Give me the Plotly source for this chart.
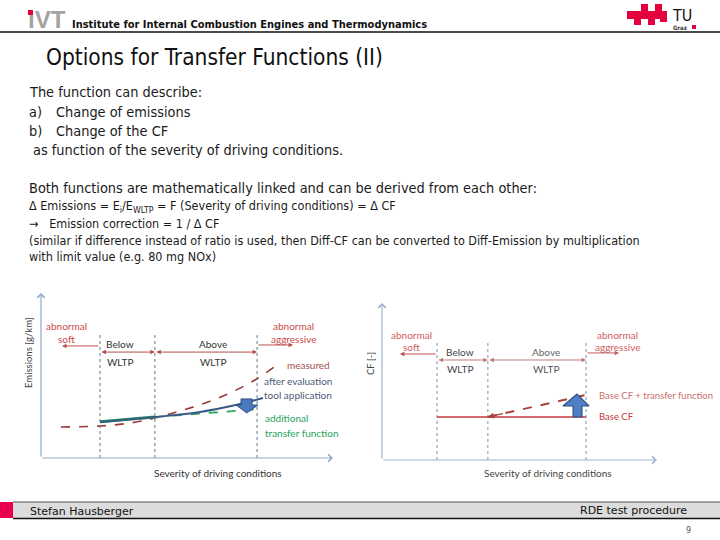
import plotly.graph_objects as go

W, H = 720, 540

# ---------------- data (diagram units 0..10 on both axes) ----------------
# Left diagram: emissions vs severity
left_bounds = [2.02, 3.90, 7.40]          # soft | below WLTP | above WLTP | aggressive
left_vtop = 7.45
measured_x = [0.68, 2.02, 3.05, 3.90, 4.76, 5.62, 6.47, 7.33, 8.08]
measured_y = [1.88, 1.94, 2.12, 2.42, 2.85, 3.33, 3.94, 4.73, 5.64]
after_eval_x = [2.02, 3.90, 5.45, 6.82, 7.60]
after_eval_y = [2.18, 2.48, 2.79, 3.27, 3.64]
green_solid_x = [2.02, 3.90]
green_solid_y = [2.20, 2.48]
green_dash_x = [3.90, 7.50]
green_dash_y = [2.48, 2.97]
down_arrow_x = [6.85, 7.23, 7.23, 7.43, 7.05, 6.68, 6.85, 6.85]
down_arrow_y = [3.58, 3.58, 3.21, 3.21, 2.73, 3.21, 3.21, 3.58]

# Right diagram: CF vs severity
right_bounds = [2.00, 3.85, 7.42]
right_vtop = 7.45
base_cf_x = [2.00, 7.42]
base_cf_y = [2.74, 2.74]
tf_x = [3.85, 7.42]
tf_y = [2.74, 4.14]
up_arrow_x = [6.95, 7.27, 7.27, 7.53, 7.09, 6.58, 6.95, 6.95]
up_arrow_y = [2.74, 2.74, 3.44, 3.44, 4.20, 3.44, 3.44, 2.74]

# ---------------- fonts / colours ----------------
NARROW = "Liberation Sans Narrow, DejaVu Sans Condensed, Arial Narrow, sans-serif"
DIAG = "Lato, Liberation Sans, sans-serif"
VERD = "DejaVu Sans, Verdana, sans-serif"
RED = "#C94B48"
AXC = "#8FA9C9"
VLC = "#5E7795"


def P(x, y):
    return x / W, 1 - y / H


fig = go.Figure()

# ---- left diagram traces ----
for b in left_bounds:
    fig.add_trace(go.Scatter(x=[b, b], y=[0, left_vtop], mode="lines",
                             line=dict(color=VLC, width=1, dash="dot"),
                             xaxis="x", yaxis="y", hoverinfo="skip"))
fig.add_trace(go.Scatter(x=measured_x, y=measured_y, mode="lines",
                         line=dict(color="#9A3B38", width=1.6, dash="dash", shape="spline"),
                         xaxis="x", yaxis="y"))
fig.add_trace(go.Scatter(x=green_solid_x, y=green_solid_y, mode="lines",
                         line=dict(color="#1E9E5A", width=3),
                         xaxis="x", yaxis="y"))
fig.add_trace(go.Scatter(x=green_dash_x, y=green_dash_y, mode="lines",
                         line=dict(color="#2EA862", width=1.8, dash="dash"),
                         xaxis="x", yaxis="y"))
fig.add_trace(go.Scatter(x=after_eval_x, y=after_eval_y, mode="lines",
                         line=dict(color="#3A5A86", width=2, shape="spline"),
                         xaxis="x", yaxis="y"))
fig.add_trace(go.Scatter(x=down_arrow_x, y=down_arrow_y, mode="lines", fill="toself",
                         fillcolor="#4A78C0", line=dict(color="#2F4F80", width=1),
                         xaxis="x", yaxis="y"))

# ---- right diagram traces ----
for b in right_bounds:
    fig.add_trace(go.Scatter(x=[b, b], y=[0, right_vtop], mode="lines",
                             line=dict(color="#7E93AD", width=1, dash="dot"),
                             xaxis="x2", yaxis="y2"))
fig.add_trace(go.Scatter(x=base_cf_x, y=base_cf_y, mode="lines",
                         line=dict(color="#C8373A", width=1.6),
                         xaxis="x2", yaxis="y2"))
fig.add_trace(go.Scatter(x=tf_x, y=tf_y, mode="lines",
                         line=dict(color="#A8403F", width=2, dash="dash"),
                         xaxis="x2", yaxis="y2"))
fig.add_trace(go.Scatter(x=up_arrow_x, y=up_arrow_y, mode="lines", fill="toself",
                         fillcolor="#4F7FC4", line=dict(color="#2F4F80", width=1.2),
                         xaxis="x2", yaxis="y2"))

ann = []


def arrow(xh, yh, xt, yt, xa, ya, color, width=1, head=4, side="end", size=1):
    ann.append(dict(x=xh, y=yh, ax=xt, ay=yt, xref=xa, yref=ya, axref=xa, ayref=ya,
                    text="", showarrow=True, arrowhead=head, arrowsize=size,
                    arrowwidth=width, arrowcolor=color, arrowside=side,
                    startarrowhead=head, startarrowsize=size))


def txt(x, y, s, xa="paper", ya="paper", size=10, color="#222", font=DIAG,
        xanchor="left", yanchor="middle", angle=0):
    ann.append(dict(x=x, y=y, xref=xa, yref=ya, text=s, showarrow=False,
                    font=dict(size=size, color=color, family=font),
                    xanchor=xanchor, yanchor=yanchor, textangle=angle))


# axes arrows
arrow(0, 10, 0, 0, "x", "y", AXC, 1.2, 4, size=1.2)
arrow(10, 0, 0, 0, "x", "y", AXC, 1.2, 4, size=1.2)
arrow(0, 10, 0, 0, "x2", "y2", "#9DB3CE", 1.2, 4, size=1.2)
arrow(10, 0, 0, 0, "x2", "y2", "#9DB3CE", 1.2, 4, size=1.2)

# left region arrows
arrow(0.72, 6.79, left_bounds[0], 6.79, "x", "y", "#B9514D", 1, 2, size=0.9)
arrow(left_bounds[1], 6.42, left_bounds[0], 6.42, "x", "y", "#B0504C", 1, 2, "end+start", 0.9)
arrow(left_bounds[2], 6.42, left_bounds[1], 6.42, "x", "y", "#B0504C", 1, 2, "end+start", 0.9)
arrow(8.63, 6.85, left_bounds[2], 6.85, "x", "y", "#B9514D", 1, 2, size=0.9)

# right region arrows
arrow(0.65, 6.75, right_bounds[0], 6.75, "x2", "y2", "#B9514D", 1, 2, size=0.9)
arrow(right_bounds[1], 6.37, right_bounds[0], 6.37, "x2", "y2", "#C07A78", 1, 2, "end+start", 0.9)
arrow(right_bounds[2], 6.37, right_bounds[1], 6.37, "x2", "y2", "#C07A78", 1, 2, "end+start", 0.9)
arrow(8.62, 6.82, right_bounds[2], 6.82, "x2", "y2", "#C06060", 1, 2, size=0.9)
# arrowhead at left end of dashed transfer line
arrow(tf_x[0], tf_y[0], tf_x[0] + 0.6, tf_y[0] + 0.235, "x2", "y2", "#A8403F", 1.5, 2, size=0.8)

# left diagram text
DS = 10
txt(0.89, 8.0, "abnormal", "x", "y", DS, RED, xanchor="center")
txt(0.89, 7.2, "soft", "x", "y", DS, RED, xanchor="center")
txt(2.7, 6.9, "Below", "x", "y", DS, "#333", xanchor="center")
txt(2.7, 5.8, "WLTP", "x", "y", DS, "#333", xanchor="center")
txt(5.89, 6.9, "Above", "x", "y", DS, "#333", xanchor="center")
txt(5.89, 5.8, "WLTP", "x", "y", DS, "#333", xanchor="center")
txt(8.63, 8.0, "abnormal", "x", "y", DS, RED, xanchor="center")
txt(8.63, 7.2, "aggressive", "x", "y", DS, RED, xanchor="center")
txt(8.36, 5.64, "measured", "x", "y", DS, "#A5514C")
txt(7.57, 4.67, "after evaluation", "x", "y", DS, "#4A5C78")
txt(7.57, 3.82, "tool application", "x", "y", DS, "#4A5C78")
txt(7.6, 2.42, "additional", "x", "y", DS, "#1FA35C")
txt(7.6, 1.52, "transfer function", "x", "y", DS, "#1FA35C")
txt(*P(28, 353), "Emissions [g/km]", size=9.5, color="#444", xanchor="center", angle=-90)
txt(*P(218, 473), "Severity of driving conditions", size=10, color="#333", xanchor="center")

# right diagram text
txt(1.09, 7.96, "abnormal", "x2", "y2", DS, "#D06060", xanchor="center")
txt(1.09, 7.2, "soft", "x2", "y2", DS, "#D06060", xanchor="center")
txt(2.84, 6.85, "Below", "x2", "y2", DS, "#444", xanchor="center")
txt(2.84, 5.78, "WLTP", "x2", "y2", DS, "#444", xanchor="center")
txt(5.96, 6.85, "Above", "x2", "y2", DS, "#666", xanchor="center")
txt(5.96, 5.78, "WLTP", "x2", "y2", DS, "#555", xanchor="center")
txt(8.58, 7.96, "abnormal", "x2", "y2", DS, "#D06060", xanchor="center")
txt(8.58, 7.2, "aggressive", "x2", "y2", DS, "#D06060", xanchor="center")
txt(7.82, 4.14, "Base CF + transfer function", "x2", "y2", 9.5, "#C87070")
txt(7.82, 2.74, "Base CF", "x2", "y2", 9.5, "#C8373A")
txt(*P(370, 363), "CF [-]", size=9.5, color="#444", xanchor="center", angle=-90)
txt(*P(548, 473), "Severity of driving conditions", size=10, color="#444", xanchor="center")

# header / title / body text
txt(*P(26, 19), "<b>ıVT</b>", size=24, color="#A3A3A3", font="Liberation Sans, Arial, sans-serif")
txt(*P(70, 25), "<b>Institute for Internal Combustion Engines and Thermodynamics</b>", size=11, color="#111", font=NARROW)
txt(*P(670, 15), "TU", size=16, color="#111", font=NARROW)
txt(*P(671, 27), "<b>Graz</b>", size=6, color="#333", font=NARROW)
txt(*P(44, 57), "Options for Transfer Functions (II)", size=22.5, color="#111", font=NARROW)

body = [
    (27, 92, "The function can describe:"),
    (27, 112, "a)"),
    (54, 112, "Change of emissions"),
    (27, 131, "b)"),
    (54, 131, "Change of the CF"),
    (31, 150, "as function of the severity of driving conditions."),
    (27, 188, "Both functions are mathematically linked and can be derived from each other:"),
]
for x, y, s in body:
    txt(*P(x, y), s, size=14.4, color="#1a1a1a", font=NARROW)

small = [
    (27, 206, "Δ Emissions = E<sub>i</sub>/E<sub>WLTP</sub> = F (Severity of driving conditions) = Δ CF"),
    (27, 223, "→   Emission correction = 1 / Δ CF"),
    (27, 240, "(similar if difference instead of ratio is used, then Diff-CF can be converted to Diff-Emission by multiplication"),
    (27, 257, "with limit value (e.g. 80 mg NOx)"),
]
for x, y, s in small:
    txt(*P(x, y), s, size=12.5, color="#1a1a1a", font=NARROW)

# footer
txt(*P(28, 511), "Stefan Hausberger", size=11, color="#111", font=VERD)
txt(*P(689, 510), "RDE test procedure", size=11, color="#111", font=VERD, xanchor="right")
txt(*P(693, 530), "9", size=8, color="#555", font=VERD, xanchor="right")

shapes = [
    # header rule
    dict(type="line", xref="paper", yref="paper", x0=0, x1=1, y0=1 - 32 / H, y1=1 - 32 / H,
         line=dict(color="#111", width=1.5)),
    # iVT dot
    dict(type="rect", xref="paper", yref="paper", x0=28 / W, x1=33 / W, y0=1 - 15 / H, y1=1 - 10 / H,
         fillcolor="#E2003D", line=dict(width=0)),
    # footer bar
    dict(type="rect", xref="paper", yref="paper", x0=13 / W, x1=1, y0=1 - 518 / H, y1=1 - 502 / H,
         fillcolor="#DCDCDC", line=dict(width=0)),
    dict(type="rect", xref="paper", yref="paper", x0=0, x1=13 / W, y0=1 - 518 / H, y1=1 - 502 / H,
         fillcolor="#E8004C", line=dict(width=0)),
    dict(type="line", xref="paper", yref="paper", x0=13 / W, x1=1, y0=1 - 502 / H, y1=1 - 502 / H,
         line=dict(color="#555", width=1)),
    dict(type="line", xref="paper", yref="paper", x0=13 / W, x1=1, y0=1 - 518.5 / H, y1=1 - 518.5 / H,
         line=dict(color="#111", width=1.5)),
]
# TU Graz logo blocks
for x0, y0, x1, y1 in [(627, 11, 667, 19), (641, 4, 648, 11), (655, 4, 662, 11),
                       (634, 19, 641, 25), (648, 19, 655, 25), (660, 19, 667, 22),
                       (692, 25, 696, 29)]:
    shapes.append(dict(type="rect", xref="paper", yref="paper", x0=x0 / W, x1=x1 / W,
                       y0=1 - y1 / H, y1=1 - y0 / H, fillcolor="#E4003F", line=dict(width=0)))

ax_common = dict(visible=False, range=[0, 10], fixedrange=True)
fig.update_layout(
    width=W, height=H, margin=dict(l=0, r=0, t=0, b=0),
    paper_bgcolor="white", plot_bgcolor="rgba(0,0,0,0)", showlegend=False,
    xaxis=dict(domain=[41 / W, 333 / W], anchor="y", **ax_common),
    yaxis=dict(domain=[1 - 458 / H, 1 - 293 / H], anchor="x", **ax_common),
    xaxis2=dict(domain=[382 / W, 657 / W], anchor="y2", **ax_common),
    yaxis2=dict(domain=[1 - 460 / H, 1 - 303 / H], anchor="x2", **ax_common),
    annotations=ann, shapes=shapes,
)
fig.write_html("out.html", config={"displayModeBar": False},
               post_script="document.body.style.margin='0';document.body.style.overflow='hidden';")
